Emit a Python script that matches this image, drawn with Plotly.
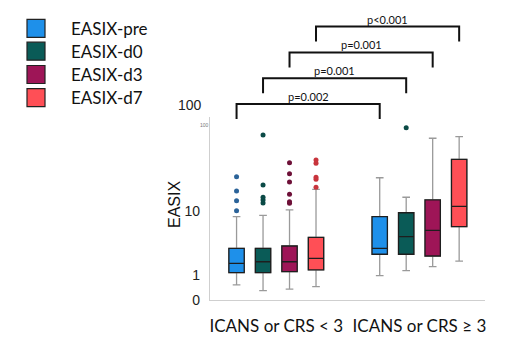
import plotly.graph_objects as go
import math

categories = ["ICANS or CRS < 3", "ICANS or CRS ≥ 3"]
series = ["EASIX-pre", "EASIX-d0", "EASIX-d3", "EASIX-d7"]
colors = ["#1E90EA", "#0A5B57", "#9E1557", "#FF4F56"]
outlier_colors = ["#2B6399", "#0B4A46", "#6E1038", "#C8343C"]

pre_lower = [0.70, 0.975]
pre_q1 = [1.09, 2.11]
pre_median = [1.52, 2.61]
pre_q3 = [2.61, 8.15]
pre_upper = [8.15, 33.1]
pre_outliers = [[10.1, 14.5, 20.5, 34.4], []]

d0_lower = [0.57, 1.17]
d0_q1 = [1.09, 2.11]
d0_median = [1.61, 3.97]
d0_q3 = [2.61, 9.4]
d0_upper = [8.57, 16.4]
d0_outliers = [[13.3, 14.9, 16.4, 25.5, 154], [200]]

d3_lower = [0.60, 1.35]
d3_q1 = [1.13, 1.98]
d3_median = [1.61, 4.99]
d3_q3 = [2.84, 14.9]
d3_upper = [10.4, 137]
d3_outliers = [[13.2, 14.0, 18.2, 28.4, 38.3, 56.9], []]

d7_lower = [0.66, 1.65]
d7_q1 = [1.20, 5.69]
d7_median = [1.82, 11.8]
d7_q3 = [3.88, 64.2]
d7_upper = [21.8, 145]
d7_outliers = [[23.5, 31.3, 33.6, 55.6, 62.6], []]

p_labels = ["p=0.002", "p=0.001", "p=0.001", "p<0.001"]
y_ticktext = ["0", "1", "10", "100"]

stats = [
    (pre_lower, pre_q1, pre_median, pre_q3, pre_upper, pre_outliers),
    (d0_lower, d0_q1, d0_median, d0_q3, d0_upper, d0_outliers),
    (d3_lower, d3_q1, d3_median, d3_q3, d3_upper, d3_outliers),
    (d7_lower, d7_q1, d7_median, d7_q3, d7_upper, d7_outliers),
]

# layout geometry (pixels)
W, H = 520, 356
L, R, T, B = 210, 35, 117, 56
PW, PH = W - L - R, H - T - B
BOXGAP, BOXGROUPGAP = 0.26, 0.42
YMIN, YMAX = -0.3906, 2.469


def px(x):
    return (x - L) / PW


def py(y):
    return (H - B - y) / PH


fig = go.Figure()
for k, (lo, q1, med, q3, up, outl) in enumerate(stats):
    # whiskers (grey) + outliers
    fig.add_trace(go.Box(
        x=categories, q1=q1, median=med, q3=q3, lowerfence=lo, upperfence=up,
        y=outl, boxpoints="outliers", jitter=0, pointpos=0,
        marker=dict(color=outlier_colors[k], size=5),
        fillcolor=colors[k], line=dict(color="#9a9a9a", width=1.3),
        whiskerwidth=0.5, offsetgroup=str(k), showlegend=False, name=series[k]))
    # box body with dark outline
    fig.add_trace(go.Box(
        x=categories, q1=q1, median=med, q3=q3, lowerfence=q1, upperfence=q3,
        boxpoints=False, fillcolor=colors[k], line=dict(color="#1e1e1e", width=1.3),
        whiskerwidth=0, offsetgroup=str(k), showlegend=False, name=series[k]))

shapes = []
annotations = []
slot = (1 - BOXGAP) / len(series)
for k, lab in enumerate(p_labels):
    off = (k - (len(series) - 1) / 2) * slot
    x1, x2 = 0 + off, 1 + off
    top = py(104 - 25.8 * k)
    leg = py(104 - 25.8 * k + 15)
    shapes.append(dict(type="path", xref="x", yref="paper",
                       path=f"M {x1},{leg} L {x1},{top} L {x2},{top} L {x2},{leg}",
                       line=dict(color="#111", width=2)))
    annotations.append(dict(x=(x1 + x2) / 2, y=py(104 - 25.8 * k - 7.5), xref="x", yref="paper",
                            xanchor="center", yanchor="middle",
                            text=lab, showarrow=False, font=dict(family="Lato", size=11, color="#111")))

# legend
leg_y = [28.3, 51.2, 74.5, 97.7]
for k, name in enumerate(series):
    cy = leg_y[k]
    shapes.append(dict(type="rect", xref="paper", yref="paper",
                       x0=px(27), x1=px(45), y0=py(cy + 9), y1=py(cy - 9),
                       fillcolor=colors[k], line=dict(color="#222", width=1.2)))
    annotations.append(dict(x=px(69), y=py(cy), xref="paper", yref="paper",
                            xanchor="left", yanchor="middle",
                            text=name, showarrow=False, font=dict(family="Lato", size=17, color="#111")))

annotations.append(dict(x=px(204), y=py(105), xref="paper", yref="paper",
                        xanchor="right", yanchor="middle",
                        text=y_ticktext[3], showarrow=False,
                        font=dict(family="Liberation Sans", size=14, color="#222")))
annotations.append(dict(x=px(204), y=py(125), xref="paper", yref="paper",
                        xanchor="center", yanchor="middle",
                        text=y_ticktext[3], showarrow=False,
                        font=dict(family="Liberation Sans", size=5, color="#777")))
annotations.append(dict(x=px(174), y=py(205), xref="paper", yref="paper", textangle=-90,
                        xanchor="center", yanchor="middle",
                        text="EASIX", showarrow=False,
                        font=dict(family="Liberation Sans", size=16, color="#111")))

fig.update_layout(
    width=W, height=H, margin=dict(l=L, r=R, t=T, b=B, autoexpand=False),
    paper_bgcolor="white", plot_bgcolor="white",
    boxmode="group", boxgap=BOXGAP, boxgroupgap=BOXGROUPGAP,
    shapes=shapes, annotations=annotations, showlegend=False,
    xaxis=dict(type="category", range=[-0.463, 1.458], showgrid=False, zeroline=False,
               showline=True, linecolor="#cfcfcf", linewidth=1.2, ticks="",
               ticklabelstandoff=10, tickangle=0, automargin=False,
               tickfont=dict(family="Lato", size=17, color="#111")),
    yaxis=dict(type="log", range=[YMIN, YMAX], showgrid=False, zeroline=False,
               showline=True, linecolor="#cfcfcf", linewidth=1.2, ticks="",
               tickvals=[10 ** YMIN, 1, 10], ticktext=y_ticktext[:3], ticklabelstandoff=6,
               automargin=False,
               tickfont=dict(family="Liberation Sans", size=14, color="#222")),
)

fig.write_html("out.html", config={"displayModeBar": False},
               post_script="document.body.style.margin='0';")
